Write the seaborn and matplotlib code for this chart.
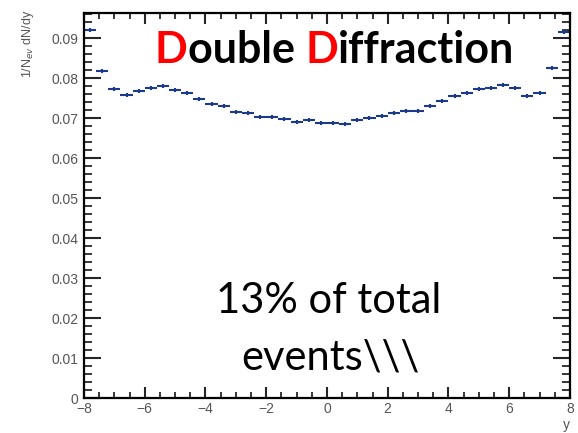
import numpy as np
import matplotlib
matplotlib.use("Agg")
import matplotlib.pyplot as plt
import seaborn as sns
from matplotlib.ticker import MultipleLocator, FuncFormatter

# bin centres in rapidity y (bin width 0.4)
y_centers = [-7.8, -7.4, -7.0, -6.6, -6.2, -5.8, -5.4, -5.0, -4.6, -4.2,
             -3.8, -3.4, -3.0, -2.6, -2.2, -1.8, -1.4, -1.0, -0.6, -0.2,
             0.2, 0.6, 1.0, 1.4, 1.8, 2.2, 2.6, 3.0, 3.4, 3.8,
             4.2, 4.6, 5.0, 5.4, 5.8, 6.2, 6.6, 7.0, 7.4, 7.8]
dndy = [0.0920, 0.0817, 0.0772, 0.0758, 0.0767, 0.0776, 0.0781, 0.0770, 0.0762, 0.0748,
        0.0735, 0.0730, 0.0716, 0.0712, 0.0703, 0.0703, 0.0698, 0.0691, 0.0695, 0.0688,
        0.0688, 0.0685, 0.0695, 0.0700, 0.0705, 0.0713, 0.0717, 0.0717, 0.0730, 0.0743,
        0.0755, 0.0762, 0.0772, 0.0776, 0.0783, 0.0776, 0.0756, 0.0762, 0.0825, 0.0915]
half_width = 0.2
stat_err = 0.0005

sns.set_theme(style="ticks")
plt.rcParams['font.family'] = ['Liberation Sans', 'DejaVu Sans']

fig = plt.figure(figsize=(5.78, 4.33), dpi=100)
ax = fig.add_axes([0.1453, 0.0808, 0.8407, 0.8892])

ax.errorbar(y_centers, dndy, xerr=half_width, yerr=stat_err, fmt='none',
            ecolor='#1c3a8c', elinewidth=1.5, capsize=0)

ax.set_xlim(-8, 8)
ax.set_ylim(0, 0.0963)

ax.xaxis.set_major_locator(MultipleLocator(2))
ax.xaxis.set_minor_locator(MultipleLocator(0.5))
ax.yaxis.set_major_locator(MultipleLocator(0.01))
ax.yaxis.set_minor_locator(MultipleLocator(0.002))
ax.yaxis.set_major_formatter(FuncFormatter(lambda v, p: "0" if abs(v) < 1e-9 else "%.2f" % v))

ax.tick_params(axis='x', which='major', direction='in', length=8, width=1.5,
               top=True, labelsize=10, labelcolor='#555555', pad=3)
ax.tick_params(axis='x', which='minor', direction='in', length=4.3, width=1.3, top=True)
ax.tick_params(axis='y', which='major', direction='in', length=12, width=1.5,
               right=True, labelsize=10, labelcolor='#555555', pad=4)
ax.tick_params(axis='y', which='minor', direction='in', length=5.8, width=1.3, right=True)
for s in ax.spines.values():
    s.set_linewidth(1.6)
    s.set_color('black')

fig.text(0.986, 0.018, "y", ha='right', va='center', fontsize=10, color='#555555')
fig.text(0.048, 0.978, "1/N$_{ev}$ dN/dy", rotation=90, ha='center', va='top',
         fontsize=9, color='#555555')

# title with red initials
title_font = dict(family=['Lato', 'DejaVu Sans'], fontsize=31, fontweight='bold', va='baseline')
parts = [("D", "red"), ("ouble ", "black"), ("D", "red"), ("iffraction", "black")]
x0 = 155 / 578
renderer = fig.canvas.get_renderer()
for txt, col in parts:
    t = fig.text(x0, 1 - 63 / 433, txt, color=col, ha='left', **title_font)
    bb = t.get_window_extent(renderer=renderer)
    x0 += bb.width / fig.bbox.width

body_font = dict(family=['Lato', 'DejaVu Sans'], fontsize=30, color='black', ha='center', va='baseline')
fig.text(329 / 578, 1 - 313 / 433, "13% of total", **body_font)
fig.text(330 / 578, 1 - 370 / 433, "events\\\\\\", **body_font)

fig.savefig("out.png", dpi=100, facecolor='white')
